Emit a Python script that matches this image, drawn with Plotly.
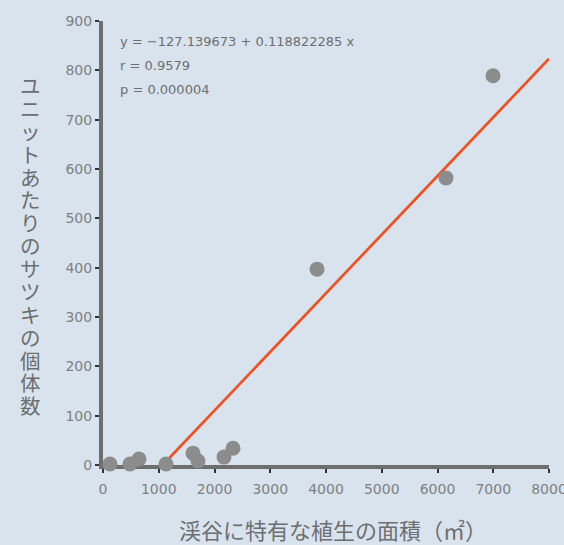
import plotly.graph_objects as go

area = [125, 484, 646, 1130, 1614, 1704, 2170, 2332, 3839, 6152, 6996]
count = [2, 2, 12, 2, 24, 8, 16, 34, 397, 582, 789]
intercept = -127.139673
slope = 0.118822285
line_x = [1100, 8000]
line_y = [intercept + slope * v for v in line_x]
x_ticks = [0, 1000, 2000, 3000, 4000, 5000, 6000, 7000, 8000]
y_ticks = [0, 100, 200, 300, 400, 500, 600, 700, 800, 900]
ytitle = "ユニットあたりのサツキの個体数"
xtitle = "渓谷に特有な植生の面積（㎡）"
stats = ["y = −127.139673 + 0.118822285 x", "r = 0.9579", "p = 0.000004"]

bg = "#d8e3ee"
fig = go.Figure()
fig.add_trace(go.Scatter(x=line_x, y=line_y, mode="lines",
                         line=dict(color="#f0501e", width=2.7), cliponaxis=False))
fig.add_trace(go.Scatter(x=area, y=count, mode="markers",
                         marker=dict(color="#8c8c8c", size=15), cliponaxis=False))

axis_common = dict(showline=True, linecolor="#6e6e6e", linewidth=4, showgrid=False,
                   zeroline=False, ticks="outside", ticklen=4, tickwidth=2,
                   tickcolor="#333333", layer="below traces", ticklabeloverflow="allow",
                   automargin=False,
                   tickfont=dict(family="DejaVu Sans", size=14, color="#808080"))
fig.update_xaxes(range=[0, 8000], tickvals=x_ticks, ticklabelstandoff=4, **axis_common)
fig.update_yaxes(range=[0, 900], tickvals=y_ticks, **axis_common)

# vertical y title: one upright character per line; line pitch from base size, glyphs larger
vtext = "<br>".join("<span style='font-size:20.5px'>" + ch + "</span>" for ch in ytitle)
fig.add_annotation(xref="paper", yref="paper", x=(30 - 103) / 446, y=(465 - 245) / 444,
                   xanchor="center", yanchor="middle", showarrow=False, align="center",
                   text=vtext,
                   font=dict(family="Noto Sans CJK JP", size=17.6, color="#6e6e6e"))
fig.add_annotation(xref="paper", yref="paper", x=(333 - 103) / 446, y=(465 - 529) / 444,
                   xanchor="center", yanchor="middle", showarrow=False, text=xtitle,
                   font=dict(family="Noto Sans CJK JP", size=22, color="#6e6e6e"))
for i, s in enumerate(stats):
    fig.add_annotation(xref="paper", yref="paper", x=(118 - 103) / 446, y=(465 - (42 + i * 23.5)) / 444,
                       xanchor="left", yanchor="middle", showarrow=False, text=s,
                       font=dict(family="DejaVu Sans", size=13, color="#6e6e6e"))

fig.update_layout(width=564, height=545, paper_bgcolor=bg, plot_bgcolor=bg,
                  showlegend=False, margin=dict(l=103, r=15, t=21, b=80, autoexpand=False))
fig.write_html("out.html", config={"displayModeBar": False},
               post_script="document.body.style.margin='0';document.body.style.background='" + bg + "';")
